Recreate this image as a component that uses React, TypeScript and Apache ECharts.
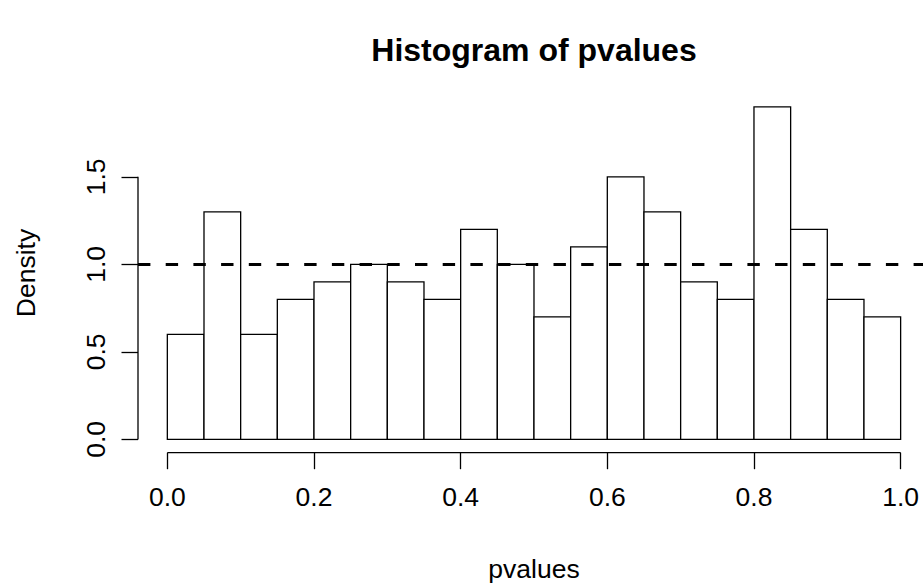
import React, { useEffect, useRef } from "react";
import * as echarts from "echarts";

const breaks = [0, 0.05, 0.1, 0.15, 0.2, 0.25, 0.3, 0.35, 0.4, 0.45, 0.5, 0.55, 0.6, 0.65, 0.7, 0.75, 0.8, 0.85, 0.9, 0.95, 1.0];
const density = [0.6, 1.3, 0.6, 0.8, 0.9, 1.0, 0.9, 0.8, 1.2, 1.0, 0.7, 1.1, 1.5, 1.3, 0.9, 0.8, 1.9, 1.2, 0.8, 0.7];
const xTicks = [0, 0.2, 0.4, 0.6, 0.8, 1.0];
const yTicks = [0, 0.5, 1.0, 1.5];
const refLine = 1;
const titleText = "Histogram of pvalues";
const xLabel = "pvalues";
const yLabel = "Density";

const FONT = "'Liberation Sans', Arial, Helvetica, sans-serif";

export default function App() {
  const ref = useRef<HTMLDivElement>(null);
  useEffect(() => {
    if (!ref.current) return;
    const chart = echarts.init(ref.current, undefined, { renderer: "svg" });
    const bins = density.map((d, i) => [breaks[i], breaks[i + 1], d]);
    const ink = "#000";
    chart.setOption({
      animation: false,
      backgroundColor: "#fff",
      grid: { left: 138, right: 0, top: 93.5, bottom: 131.3, containLabel: false },
      xAxis: {
        type: "value",
        min: -0.04,
        max: 1.0305,
        axisLine: { show: false, onZero: false },
        splitLine: { show: false },
        axisTick: { show: true, customValues: xTicks, length: 16.5, lineStyle: { color: ink, width: 1.3 } },
        axisLabel: {
          customValues: xTicks,
          formatter: (v: number) => v.toFixed(1),
          color: ink,
          fontFamily: FONT,
          fontSize: 26.5,
          margin: 44,
          verticalAlign: "middle",
        },
      },
      yAxis: {
        type: "value",
        min: -0.076,
        max: 1.976,
        axisLine: { show: false, onZero: false },
        splitLine: { show: false },
        axisTick: { show: true, customValues: yTicks, length: 16.5, lineStyle: { color: ink, width: 1.3 } },
        axisLabel: {
          customValues: yTicks,
          formatter: (v: number) => v.toFixed(1),
          color: ink,
          fontFamily: FONT,
          fontSize: 26.5,
          margin: 42,
          rotate: 90,
          align: "center",
          verticalAlign: "middle",
        },
      },
      graphic: [
        {
          type: "text",
          x: 534,
          y: 50,
          style: { text: titleText, fill: ink, font: `bold 32px ${FONT}`, align: "center", verticalAlign: "middle" },
        },
        {
          type: "text",
          x: 534,
          y: 569,
          style: { text: xLabel, fill: ink, font: `26.5px ${FONT}`, align: "center", verticalAlign: "middle" },
        },
        {
          type: "text",
          x: 25.5,
          y: 273,
          rotation: Math.PI / 2,
          style: { text: yLabel, fill: ink, font: `26.5px ${FONT}`, align: "center", verticalAlign: "middle" },
        },
      ],
      series: [
        {
          type: "custom",
          data: bins,
          encode: { x: [0, 1], y: 2 },
          clip: false,
          renderItem: (params: any, api: any) => {
            const p0 = api.coord([api.value(0), 0]);
            const p1 = api.coord([api.value(1), api.value(2)]);
            return {
              type: "rect",
              shape: { x: p0[0], y: p1[1], width: p1[0] - p0[0], height: p0[1] - p1[1] },
              style: { fill: "#fff", stroke: ink, lineWidth: 1.3 },
            };
          },
          markLine: {
            silent: true,
            symbol: ["none", "none"],
            label: { show: false },
            lineStyle: { color: ink, width: 3, type: [12.4, 15.3], cap: "butt" },
            data: [{ yAxis: refLine }],
          },
          z: 2,
        },
        {
          type: "custom",
          data: [[0]],
          clip: false,
          silent: true,
          z: 3,
          renderItem: (params: any, api: any) => {
            const cs = params.coordSys;
            const xa = api.coord([xTicks[0], 0]);
            const xb = api.coord([xTicks[xTicks.length - 1], 0]);
            const ya = api.coord([0, yTicks[0]]);
            const yb = api.coord([0, yTicks[yTicks.length - 1]]);
            const bottom = cs.y + cs.height;
            const left = cs.x;
            return {
              type: "group",
              children: [
                { type: "line", shape: { x1: xa[0], y1: bottom, x2: xb[0], y2: bottom }, style: { stroke: ink, lineWidth: 1.3 } },
                { type: "line", shape: { x1: left, y1: ya[1], x2: left, y2: yb[1] }, style: { stroke: ink, lineWidth: 1.3 } },
              ],
            };
          },
        },
      ],
    });
    return () => chart.dispose();
  }, []);
  return <div ref={ref} style={{ position: "absolute", left: 0, top: 0, width: 923, height: 584 }} />;
}
